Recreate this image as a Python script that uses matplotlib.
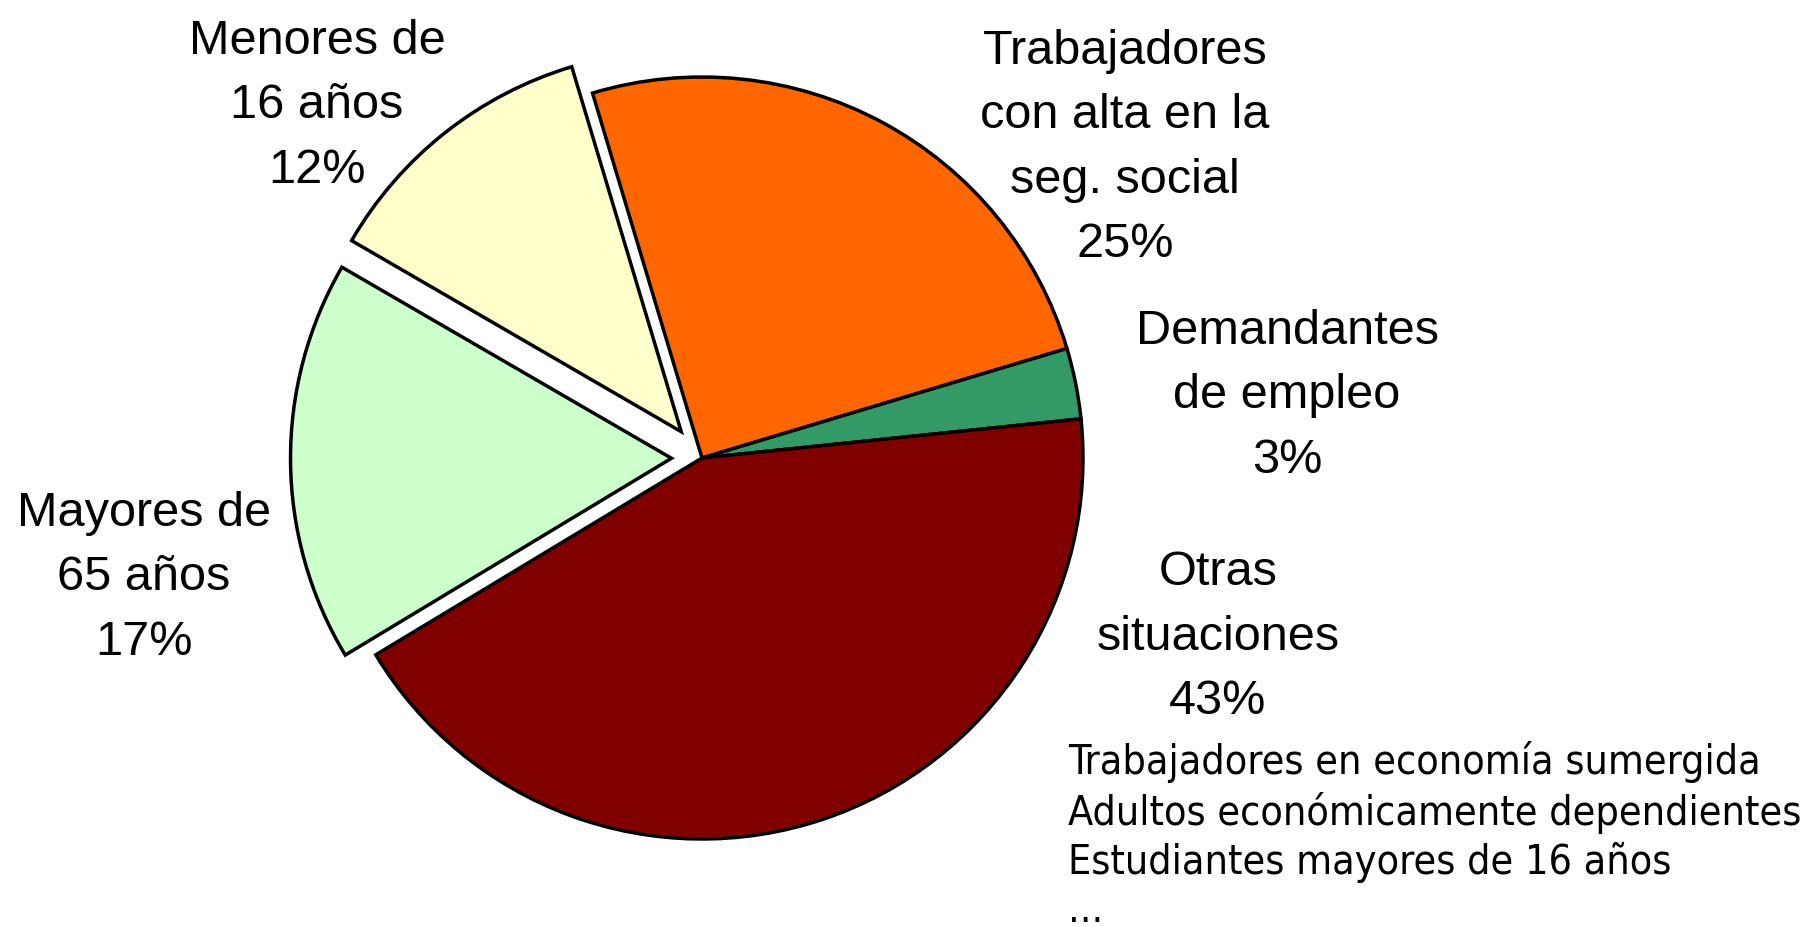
import matplotlib
matplotlib.use("Agg")
import matplotlib.pyplot as plt

# data
categorias = ["Trabajadores\ncon alta en la\nseg. social", "Demandantes\nde empleo",
              "Otras\nsituaciones", "Mayores de\n65 años", "Menores de\n16 años"]
valores = [25, 3, 43, 17, 12]
colores = ["#FF6600", "#339966", "#800000", "#CCFFCC", "#FFFFCC"]
separar = [0, 0, 0, 0.08, 0.088]
otras_detalle = ["Trabajadores en economía sumergida",
                 "Adultos económicamente dependientes",
                 "Estudiantes mayores de 16 años",
                 "..."]

# label positions in pixel coords (x, y of middle line)
pos_etiquetas = [(1125, 928 - 148), (1287, 928 - 396), (1218, 928 - 637),
                 (144, 928 - 578), (317, 928 - 106)]

W, H = 1810, 928
R = 381
fig = plt.figure(figsize=(W / 100, H / 100), dpi=100)
ax = fig.add_axes([0, 0, 1, 1])

# explode in mpl is in data units, so scale by the radius
ax.pie(valores, colors=colores, explode=[e * R for e in separar], startangle=106.7,
       counterclock=False, center=(702, 469), radius=R,
       wedgeprops=dict(edgecolor="black", linewidth=2.5))

for cat, v, (x, y) in zip(categorias, valores, pos_etiquetas):
    ax.text(x, y, f"{cat}\n{v}%", ha="center", va="center",
            fontsize=35, family=["Liberation Sans", "DejaVu Sans"],
            linespacing=1.56)

ax.text(1068, 928 - 741, "\n".join(otras_detalle), ha="left", va="top",
        fontsize=29.5, family="DejaVu Sans", stretch="condensed",
        linespacing=1.26)

ax.set_xlim(0, W)
ax.set_ylim(0, H)
ax.set_aspect("equal")
ax.axis("off")

fig.savefig("out.png", dpi=100)
